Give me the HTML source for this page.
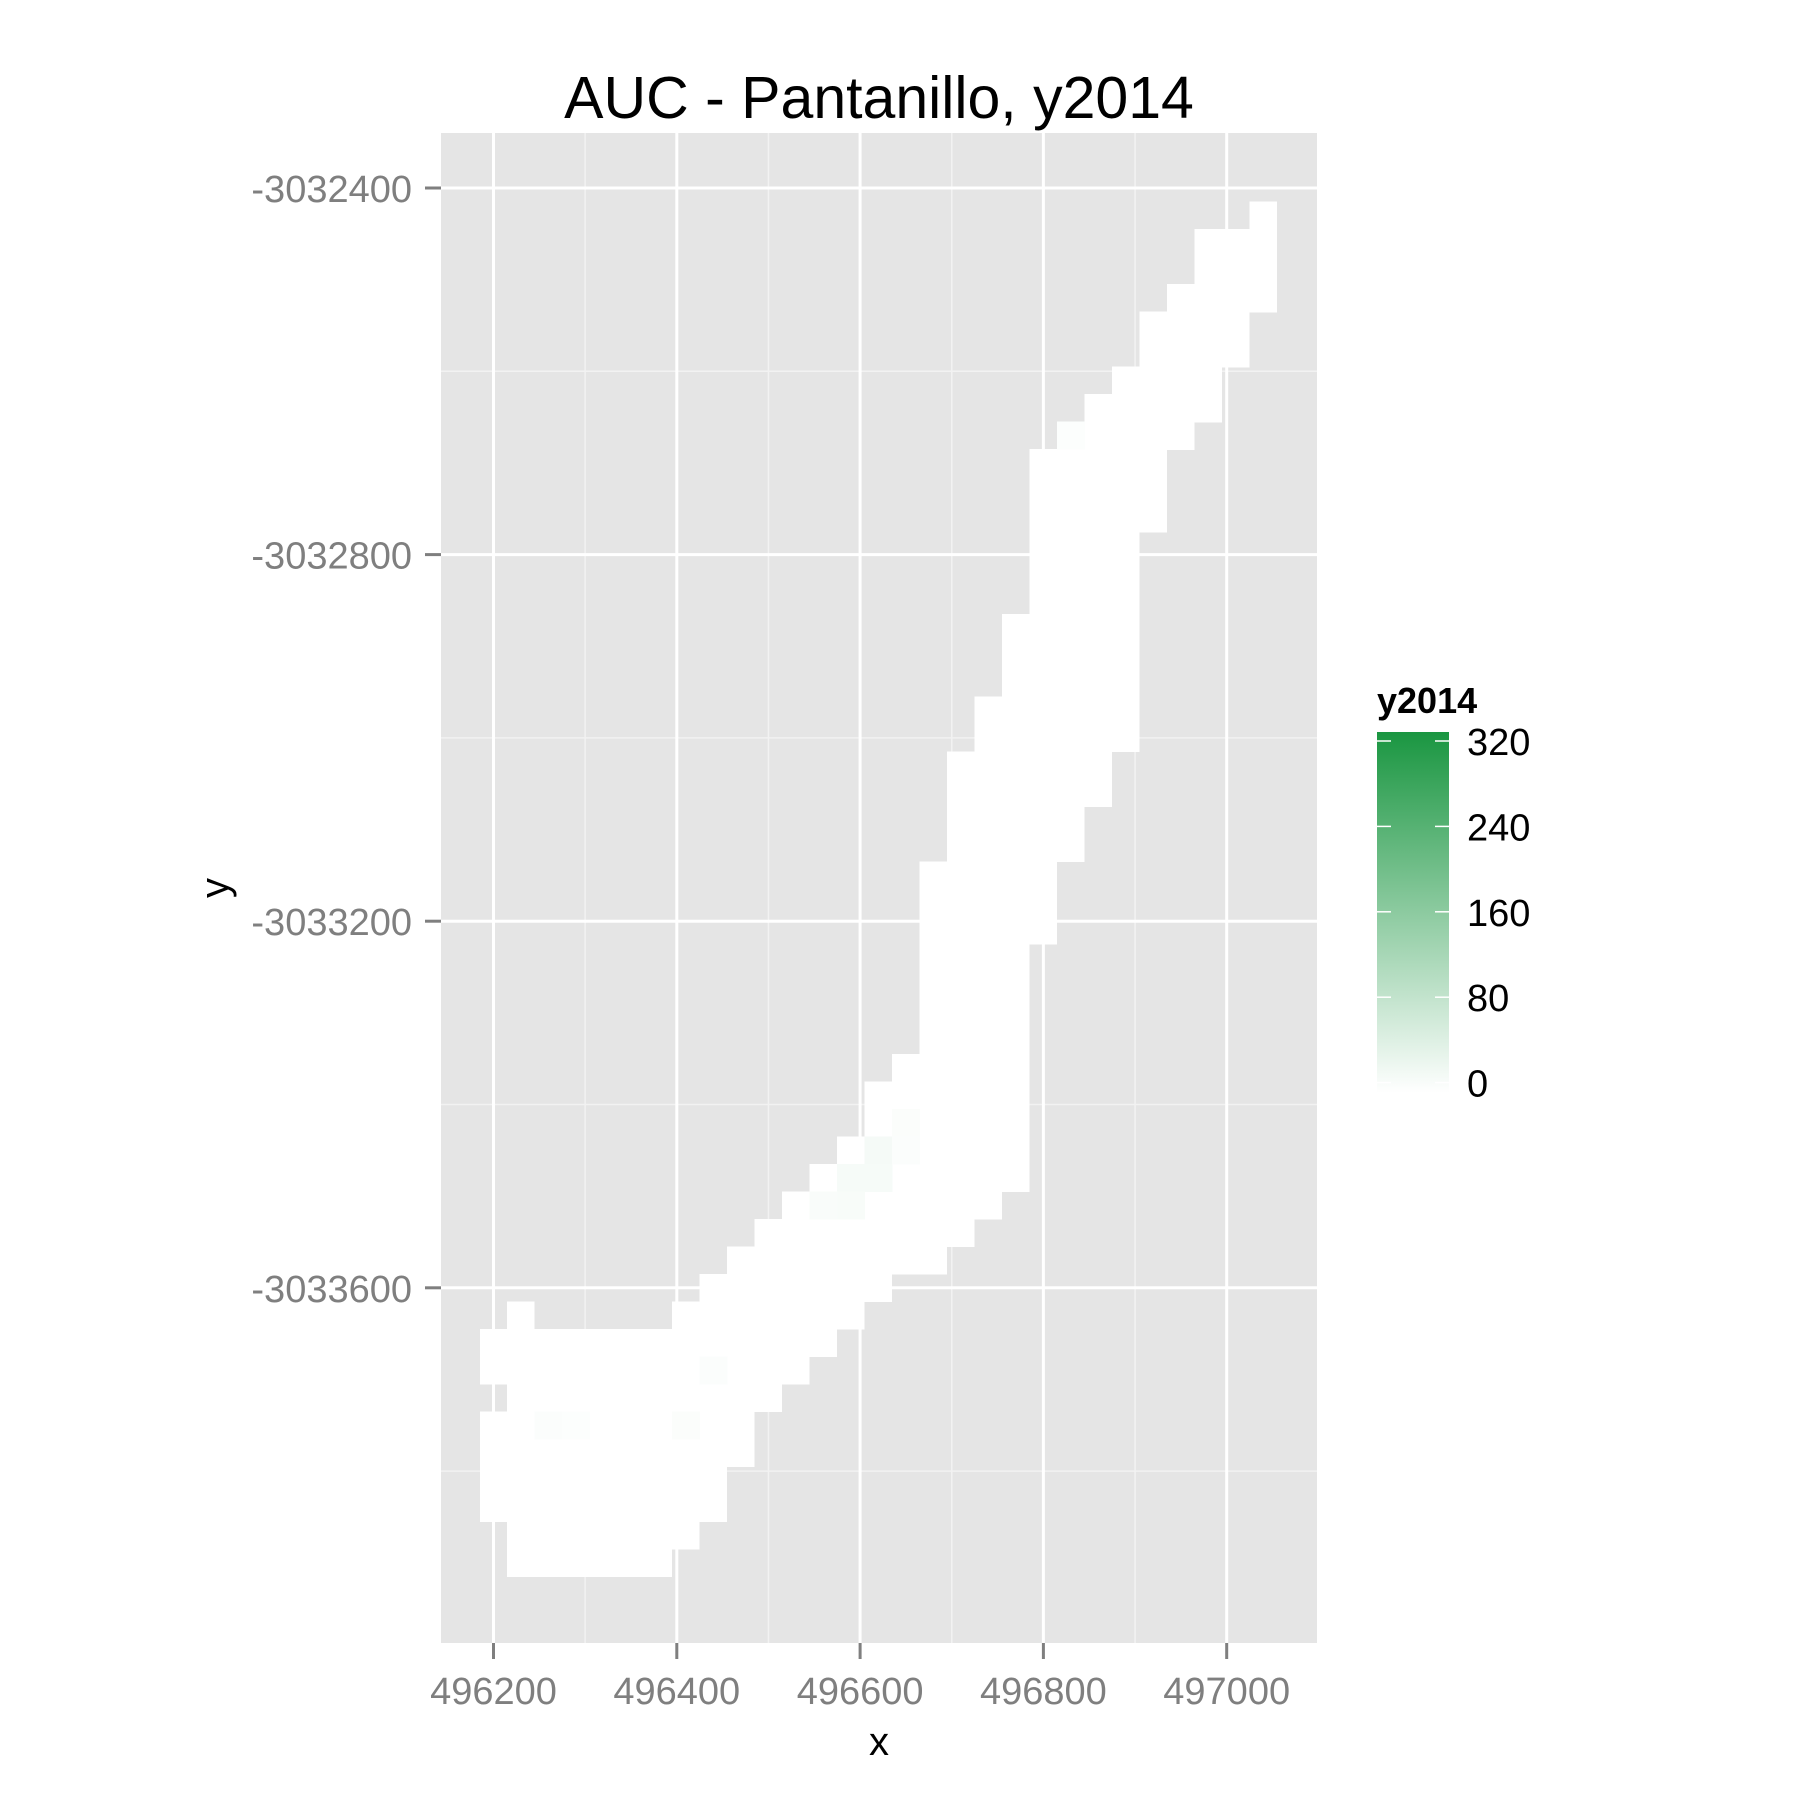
<!DOCTYPE html>
<html><head><meta charset="utf-8"><style>
html,body{margin:0;padding:0;background:#fff;}
svg{display:block;font-family:"Liberation Sans",Arial,sans-serif;}
</style></head><body>
<svg id="chart" width="1800" height="1800" viewBox="0 0 1800 1800" xmlns="http://www.w3.org/2000/svg">
<rect x="0" y="0" width="1800" height="1800" fill="#fff"/>
<text x="879" y="118" font-size="59" text-anchor="middle" fill="#000">AUC - Pantanillo, y2014</text>
<rect x="441" y="133" width="876" height="1510" fill="#e5e5e5"/>
<g id="grid"></g>
<g id="cells" shape-rendering="crispEdges"></g>
<g id="axes"></g>
<text x="879" y="1755" font-size="40" text-anchor="middle">x</text>
<text x="0" y="0" font-size="40" text-anchor="middle" transform="translate(228,888) rotate(-90)">y</text>
<g id="legend">
<defs><linearGradient id="lg" x1="0" y1="1" x2="0" y2="0">
<stop offset="0" stop-color="#ffffff"/><stop offset="1" stop-color="#1a9641"/></linearGradient></defs>
<text x="1377" y="713" font-size="36" font-weight="bold">y2014</text>
<rect x="1377" y="732" width="72" height="361" fill="url(#lg)"/>
</g>
</svg>
<script>
const rowY = [];
for (let r = 0; r < 50; r++) rowY.push(-3032430 - 30 * r);
const rowXStart = [497040,496980,496980,496950,496920,496920,496890,496860,496830,496800,
496800,496800,496800,496800,496800,496770,496770,496770,496740,496740,
496710,496710,496710,496710,496680,496680,496680,496680,496680,496680,
496680,496650,496620,496620,496590,496560,496530,496500,496470,496440,
496410,496200,496200,496230,496200,496200,496200,496200,496230,496230];
const rowXEnd = [497040,497040,497040,497040,497010,497010,496980,496980,496950,496920,
496920,496920,496890,496890,496890,496890,496890,496890,496890,496890,
496860,496860,496830,496830,496800,496800,496800,496770,496770,496770,
496770,496770,496770,496770,496770,496770,496740,496710,496680,496620,
496590,496560,496530,496500,496470,496470,496440,496440,496410,496380];
const extraX = [496230];
const extraY = [-3033630];
const valX = [496620,496620,496590,496590,496560,496650,496650,496440,496410,496260,496290,496830];
const valY = [-3033450,-3033480,-3033480,-3033510,-3033510,-3033420,-3033450,-3033690,-3033750,-3033750,-3033750,-3032670];
const valV = [14,12,12,10,8,6,5,5,6,5,4,4];
const xTicks = [496200,496400,496600,496800,497000];
const yTicks = [-3032400,-3032800,-3033200,-3033600];
const xMinor = [496300,496500,496700,496900];
const yMinor = [-3032600,-3033000,-3033400,-3033800];
const legendTicks = [0,80,160,240,320];

const K = 0.9165;
const sx = x => 493.5 + (x - 496200) * K;
const sy = y => 188 + (-3032400 - y) * K;
const cw = 30 * K;
const NS = "http://www.w3.org/2000/svg";
function mk(tag, attrs, parent){const e=document.createElementNS(NS,tag);for(const k in attrs)e.setAttribute(k,attrs[k]);parent.appendChild(e);return e;}
function col(v){const t=Math.min(1,v/320);const r=Math.round(255+(26-255)*t),g=Math.round(255+(150-255)*t),b=Math.round(255+(65-255)*t);return `rgb(${r},${g},${b})`;}

const grid=document.getElementById('grid');
xMinor.forEach(v=>{const l=mk('line',{x1:sx(v),x2:sx(v),y1:133,y2:1643,stroke:'#f2f2f2','stroke-width':1.5},grid);

});
yMinor.forEach(v=>{const l=mk('line',{x1:441,x2:1317,y1:sy(v),y2:sy(v),stroke:'#f2f2f2','stroke-width':1.5},grid);

});
xTicks.forEach(v=>{const l=mk('line',{x1:sx(v),x2:sx(v),y1:133,y2:1643,stroke:'#fff','stroke-width':3},grid);

});
yTicks.forEach(v=>{const l=mk('line',{x1:441,x2:1317,y1:sy(v),y2:sy(v),stroke:'#fff','stroke-width':3},grid);

});

const cells=document.getElementById('cells');
rowY.forEach((y,i)=>{
  const x0=rowXStart[i], x1=rowXEnd[i];
  const r=mk('rect',{x:sx(x0-15),y:sy(y+15),width:sx(x1+15)-sx(x0-15),height:cw+0.6,fill:'#ffffff'},cells);
  
  
});
extraX.forEach((x,i)=>{
  const r=mk('rect',{x:sx(x-15),y:sy(extraY[i]+15),width:cw,height:cw+0.6,fill:'#ffffff'},cells);
  
  
});
valX.forEach((x,i)=>{
  const r=mk('rect',{x:sx(x-15),y:sy(valY[i]+15),width:cw+0.5,height:cw+0.5,fill:col(valV[i])},cells);
  
  
});

const axes=document.getElementById('axes');
xTicks.forEach(v=>{
  const t=mk('line',{x1:sx(v),x2:sx(v),y1:1643,y2:1659,stroke:'#7f7f7f','stroke-width':3},axes);
  
  
  const l=mk('text',{x:sx(v),y:1704,'font-size':38,'text-anchor':'middle',fill:'#7f7f7f'},axes);
  l.textContent=String(v);
  
  
});
yTicks.forEach(v=>{
  const t=mk('line',{x1:425,x2:441,y1:sy(v),y2:sy(v),stroke:'#7f7f7f','stroke-width':3},axes);
  
  
  const l=mk('text',{x:412,y:sy(v)+14,'font-size':38,'text-anchor':'end',fill:'#7f7f7f'},axes);
  l.textContent=String(v);
  
  
});

const leg=document.getElementById('legend');
const ly = v => 1082.6 - v * (341.6/320);
legendTicks.forEach(v=>{
  const a=mk('line',{x1:1377,x2:1391,y1:ly(v),y2:ly(v),stroke:'#fff','stroke-width':1.5},leg);
  
  
  const b=mk('line',{x1:1435,x2:1449,y1:ly(v),y2:ly(v),stroke:'#fff','stroke-width':1.5},leg);
  
  
  const l=mk('text',{x:1467,y:ly(v)+14,'font-size':38,fill:'#000'},leg);
  l.textContent=String(v);
  
  
});
</script>
</body></html>
